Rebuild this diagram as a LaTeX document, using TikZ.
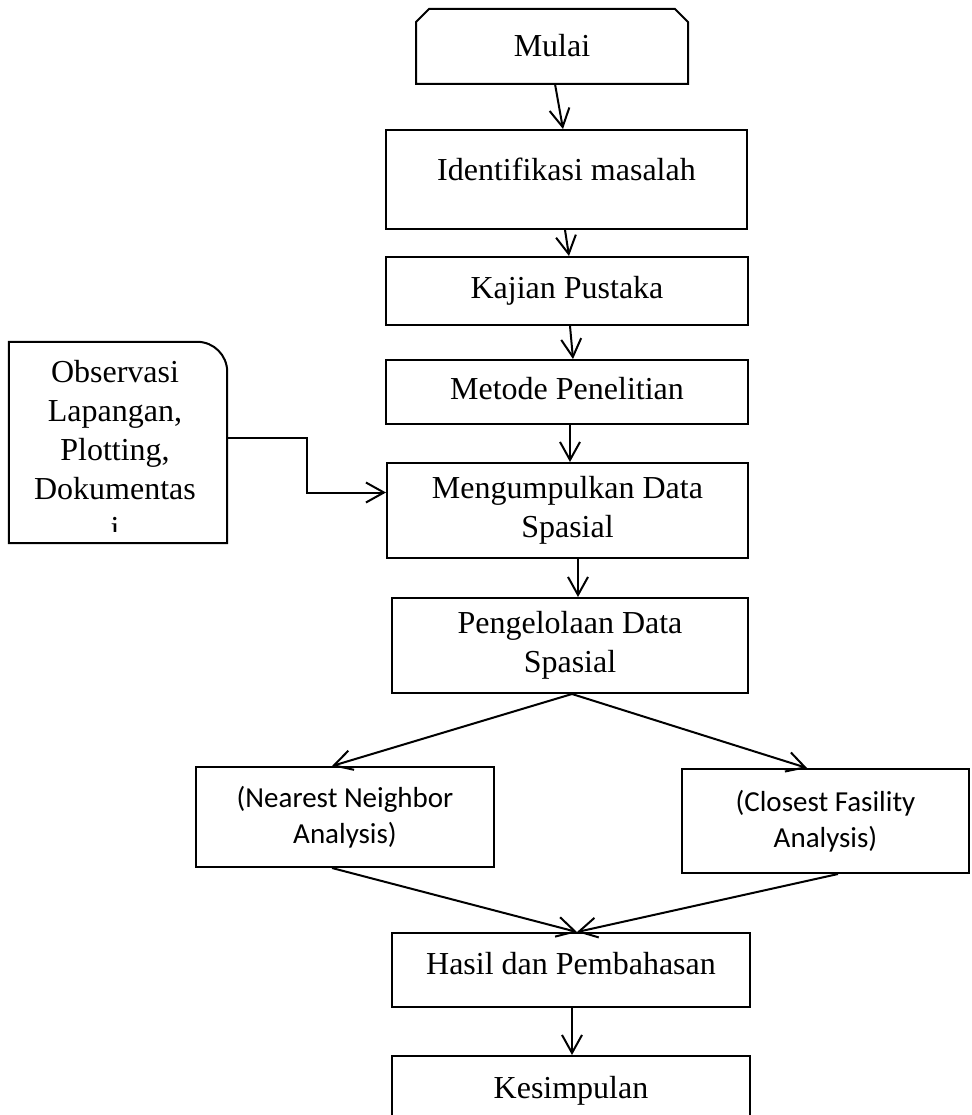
\documentclass[tikz,border=0pt]{standalone}
\usepackage{fontspec}
\setmainfont{Liberation Serif}
\newfontfamily\calibri{Carlito}
\usepackage{tikz}
\usetikzlibrary{calc}
\usetikzlibrary{arrows.meta}
\tikzset{garis/.style={line width=2pt, line join=miter}}
\tikzset{proses/.style={garis, draw, inner sep=0pt, align=center, font=\fontsize{32}{39}\selectfont}}
\tikzset{analisis/.style={garis, draw, inner sep=0pt, align=center, font=\calibri\fontsize{29}{36}\selectfont}}
\tikzset{panah/.style={garis, -{Straight Barb[length=18pt,width=20pt]}}}

\begin{document}
\begin{tikzpicture}[x=1pt,y=-1pt]
    \useasboundingbox (0,0) rectangle (971,1115);
    \clip (0,0) rectangle (971,1115);
    % terminal awal, sudut atas dipotong
    \node[proses, draw=none, minimum width=270pt, minimum height=73pt, text depth=3pt] (mulai) at (552,46.5) {Mulai};
    \draw[garis] (mulai.south west) -- ($(mulai.north west)+(0,13)$) -- ($(mulai.north west)+(13,0)$)
        -- ($(mulai.north east)+(-13,0)$) -- ($(mulai.north east)+(0,13)$) -- (mulai.south east) -- cycle;
    \node[proses, minimum width=361pt, minimum height=99pt, text depth=21pt] (identifikasi) at (566.5,179.5) {Identifikasi masalah};
    \node[proses, minimum width=362pt, minimum height=68pt] (kajian) at (567,291) {Kajian Pustaka};
    \node[proses, minimum width=362pt, minimum height=64pt, text depth=7pt] (metode) at (567,392) {Metode Penelitian};
    \node[proses, minimum width=361pt, minimum height=95pt] (kumpul) at (567.5,510.5) {Mengumpulkan Data\\Spasial};
    \node[proses, minimum width=356pt, minimum height=95pt] (kelola) at (570,645.5) {Pengelolaan Data\\Spasial};
    \node[analisis, minimum width=298pt, minimum height=100pt] (nna) at (345,817) {(Nearest Neighbor\\Analysis)};
    \node[analisis, minimum width=287pt, minimum height=104pt] (cfa) at (825.5,821) {(Closest Fasility\\Analysis)};
    \node[proses, minimum width=358pt, minimum height=74pt, text depth=14pt] (hasil) at (571,970) {Hasil dan Pembahasan};
    \node[proses, minimum width=358pt, minimum height=70pt] (simpul) at (571,1091) {Kesimpulan};

    % kotak data lapangan, sudut kanan atas membulat
    \node[minimum width=218pt, minimum height=201pt, inner sep=0pt] (obs) at (118,442.5) {};
    \draw[garis] (obs.south west) -- (obs.north west) -- ($(obs.north east)+(-30,0)$)
        .. controls ($(obs.north east)+(-13.4,0)$) and ($(obs.north east)+(0,13.4)$) .. ($(obs.north east)+(0,30)$)
        -- (obs.south east) -- cycle;
    \begin{scope}
      \clip (obs.north west) rectangle ($(obs.south east)+(0,-12)$);
      \node[anchor=north, inner sep=0pt, align=center, font=\fontsize{32}{39}\selectfont] (obsteks) at (115,360)
        {Observasi\\Lapangan,\\Plotting,\\Dokumentas\\i};
    \end{scope}

    \draw[panah] ([xshift=3pt]mulai.south) -- ([xshift=-3.5pt]identifikasi.north);
    \draw[panah] ([xshift=-1.5pt]identifikasi.south) -- ([xshift=2pt]kajian.north);
    \draw[panah] ([xshift=3pt]kajian.south) -- ([xshift=6pt]metode.north);
    \draw[panah] ([xshift=3pt]metode.south) -- ([xshift=2.5pt]kumpul.north);
    \draw[panah] ([yshift=4.5pt]obs.east) -- ++(80,0) |- ([yshift=18pt]kumpul.west);
    \draw[panah] ([xshift=10.5pt]kumpul.south) -- ([xshift=8pt]kelola.north);
    \draw[panah] ([xshift=2pt]kelola.south) -- ([xshift=-13pt]nna.north);
    \draw[panah] ([xshift=2pt]kelola.south) -- ([xshift=-18.5pt]cfa.north);
    \draw[panah] ([xshift=-13pt]nna.south) -- ([xshift=6pt]hasil.north);
    \draw[panah] ([xshift=12.5pt]cfa.south) -- ([xshift=6pt]hasil.north);
    \draw[panah] ([xshift=1pt]hasil.south) -- ([xshift=1pt]simpul.north);
\end{tikzpicture}
\end{document}
